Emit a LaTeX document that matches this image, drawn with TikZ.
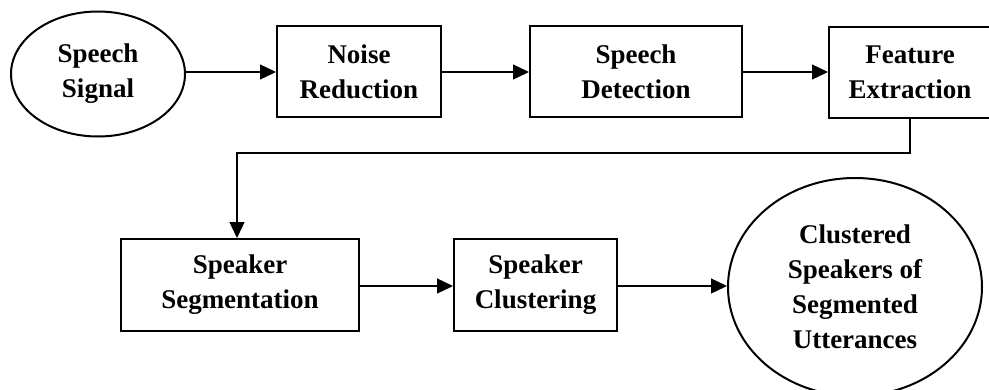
\documentclass[tikz,border=0pt]{standalone}
\usepackage{fontspec}
\setmainfont{Liberation Serif}
\usetikzlibrary{shapes.geometric,arrows.meta}
\begin{document}
\begin{tikzpicture}[x=1pt,y=-1pt,
  lbl/.style={font=\fontsize{27}{35}\selectfont\bfseries, align=center, inner sep=0pt},
  stage/.style={lbl, draw, line width=2pt, rectangle},
  terminal/.style={lbl, draw, line width=2pt, ellipse},
  flow/.style={line width=1.3pt, -{Triangle[length=16pt,width=15pt]}}]
  \useasboundingbox (0,0) rectangle (989,389);

  % top row
  \node[terminal, minimum width=174pt, minimum height=125pt] (sig) at (98,74) {Speech\\Signal};
  \node[stage, minimum width=164pt, minimum height=91pt] (nr) at (359,71.5) {Noise\\Reduction};
  \node[stage, minimum width=212pt, minimum height=91pt] (sd) at (636,71.5) {Speech\\Detection};
  \node[stage, minimum width=162pt, minimum height=91pt] (fe) at (910,72.5) {Feature\\Extraction};

  % bottom row
  \node[stage, minimum width=238pt, minimum height=92pt] (seg) at (240,285) {Speaker\\Segmentation};
  \node[stage, minimum width=163pt, minimum height=92pt] (clu) at (535.5,285) {Speaker\\Clustering};
  \node[terminal, minimum width=254pt, minimum height=218pt] (out) at (855,287) {Clustered\\Speakers of\\Segmented\\Utterances};

  % connectors
  \draw[flow] (sig.east |- 0,72) -- (nr.west |- 0,72);
  \draw[flow] (nr.east |- 0,72) -- (sd.west |- 0,72);
  \draw[flow] (sd.east |- 0,72) -- (fe.west |- 0,72);
  \coordinate (turn) at (237,153);
  \draw[flow] (fe.south) |- (turn) -- (turn |- seg.north);
  \draw[flow] (seg.east |- 0,286) -- (clu.west |- 0,286);
  \draw[flow] (clu.east |- 0,286) -- (out.west |- 0,286);
\end{tikzpicture}
\end{document}
